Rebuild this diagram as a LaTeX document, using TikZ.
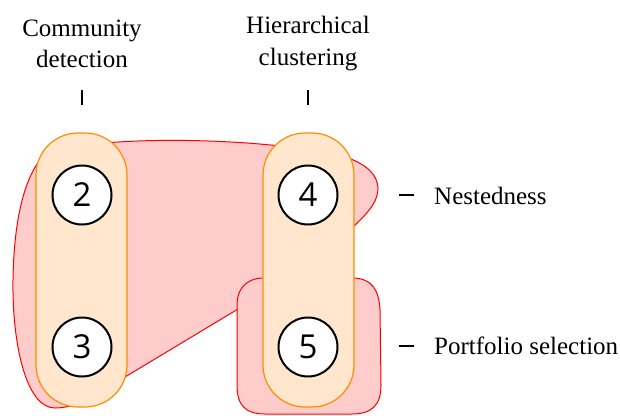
\documentclass[tikz,border=0pt]{standalone}
\usepackage{fontspec}
\setmainfont{Liberation Serif}
\newfontfamily\numfont{Open Sans}
\definecolor{blobfill}{HTML}{FFCCCC}
\definecolor{blobline}{HTML}{FF0000}
\definecolor{capfill}{HTML}{FFE6CC}
\definecolor{capline}{HTML}{FF8C00}
\begin{document}
\begin{tikzpicture}[x=1pt,y=-1pt,
  blob/.style={fill=blobfill, draw=blobline, line width=1pt},
  capsule/.style={fill=capfill, draw=capline, line width=1.2pt, rounded corners=42pt},
  num/.style={circle, draw=black, line width=2pt, fill=white, minimum size=59pt, inner sep=0pt, font=\numfont\fontsize{33}{33}\selectfont},
  lbl/.style={font=\fontsize{25}{31.5}\selectfont, inner sep=0pt, align=center},
  side/.style={font=\fontsize{25}{30}\selectfont, inner sep=0pt, anchor=base west},
  tickmark/.style={line width=1.8pt}]
\useasboundingbox (0,0) rectangle (620,415);

% nestedness hull
\draw[blob] (45,155) .. controls (80,138) and (200,137) .. (280,146)
  .. controls (330,149) and (377,160) .. (378,188)
  .. controls (378,205) and (362,218) .. (352,228)
  -- (263,294) -- (120,380)
  .. controls (90,398) and (75,408) .. (55,408)
  .. controls (25,408) and (12,340) .. (13,280)
  .. controls (14,210) and (28,170) .. (45,155) -- cycle;

% portfolio hull
\draw[blob] (262,278) -- (352,278)
  .. controls (372,278) and (379,290) .. (380,310)
  -- (381,385)
  .. controls (381,405) and (372,414) .. (352,414)
  -- (265,414)
  .. controls (245,414) and (237,405) .. (237,385)
  -- (237,305)
  .. controls (237,290) and (245,279) .. (262,278) -- cycle;

% capsules
\draw[capsule] (36,133) rectangle (127,407);
\draw[capsule] (263,133) rectangle (354,407);

% nodes
\node[num] (n2) at (82,195) {2};
\node[num] (n3) at (82,347) {3};
\node[num] (n4) at (308,195) {4};
\node[num] (n5) at (308,347) {5};

% top labels
\node[lbl] (cd) at (82,44) {Community\\detection};
\node[lbl] (hc) at (308,43.5) {Hierarchical\\clustering};
\coordinate (t1a) at (82,90); \coordinate (t1b) at (82,105);
\coordinate (t2a) at (308,90); \coordinate (t2b) at (308,105);
\draw[tickmark] (t1a) -- (t1b);
\draw[tickmark] (t2a) -- (t2b);

% side labels
\node[side] (nest) at (434,204.3) {Nestedness};
\node[side] (port) at (434,354.3) {Portfolio selection};
\coordinate (d1a) at (399,195); \coordinate (d1b) at (414,195);
\coordinate (d2a) at (399,346); \coordinate (d2b) at (414,346);
\draw[tickmark] (d1a) -- (d1b);
\draw[tickmark] (d2a) -- (d2b);
\end{tikzpicture}
\end{document}
